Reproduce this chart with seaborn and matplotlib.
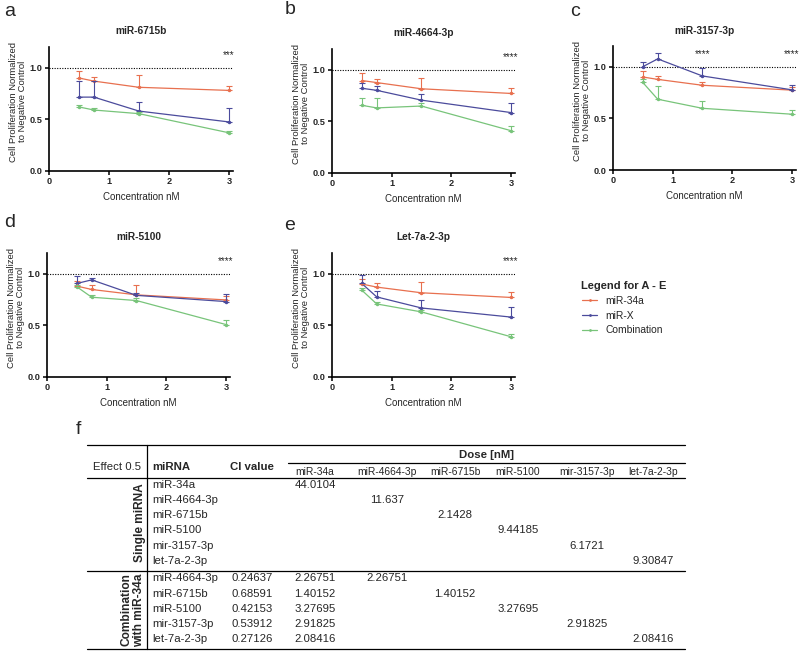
import numpy as np
import pandas as pd
import matplotlib
matplotlib.use("Agg")
import matplotlib.pyplot as plt
from matplotlib.lines import Line2D
import seaborn as sns

sns.set_style("ticks")
plt.rcParams['font.family'] = ['Liberation Sans', 'DejaVu Sans']

# ---------------- data ----------------
conc = [0.5, 0.75, 1.5, 3.0]
series_names = ["miR-34a", "miR-X", "Combination"]
colors = {"miR-34a": "#E8704F", "miR-X": "#4B4B9C", "Combination": "#78C47A"}

panel_titles = ["miR-6715b", "miR-4664-3p", "miR-3157-3p", "miR-5100", "Let-7a-2-3p"]
panel_letters = ["a", "b", "c", "d", "e"]

# panel a: miR-6715b
a_mir34a = [0.90, 0.87, 0.81, 0.78]
a_mir34a_err = [0.07, 0.04, 0.12, 0.04]
a_mirx = [0.715, 0.715, 0.58, 0.475]
a_mirx_err = [0.155, 0.155, 0.09, 0.135]
a_combo = [0.62, 0.59, 0.555, 0.37]
a_combo_err = [0.02, 0.02, 0.02, 0.02]

# panel b: miR-4664-3p
b_mir34a = [0.895, 0.875, 0.815, 0.77]
b_mir34a_err = [0.075, 0.03, 0.105, 0.055]
b_mirx = [0.82, 0.80, 0.705, 0.585]
b_mirx_err = [0.05, 0.04, 0.055, 0.095]
b_combo = [0.655, 0.63, 0.648, 0.41]
b_combo_err = [0.075, 0.10, 0.03, 0.045]

# panel c: miR-3157-3p
c_mir34a = [0.90, 0.877, 0.82, 0.773]
c_mir34a_err = [0.06, 0.035, 0.03, 0.035]
c_mirx = [1.0, 1.075, 0.91, 0.776]
c_mirx_err = [0.05, 0.055, 0.075, 0.045]
c_combo = [0.847, 0.685, 0.597, 0.54]
c_combo_err = [0.035, 0.125, 0.07, 0.04]

# panel d: miR-5100
d_mir34a = [0.88, 0.847, 0.795, 0.746]
d_mir34a_err = [0.05, 0.04, 0.095, 0.035]
d_mirx = [0.905, 0.94, 0.79, 0.73]
d_mirx_err = [0.07, 0.02, 0.02, 0.07]
d_combo = [0.873, 0.772, 0.74, 0.508]
d_combo_err = [0.02, 0.02, 0.02, 0.04]

# panel e: Let-7a-2-3p
e_mir34a = [0.90, 0.87, 0.815, 0.77]
e_mir34a_err = [0.045, 0.035, 0.105, 0.055]
e_mirx = [0.905, 0.775, 0.668, 0.58]
e_mirx_err = [0.08, 0.055, 0.075, 0.095]
e_combo = [0.84, 0.707, 0.63, 0.39]
e_combo_err = [0.02, 0.02, 0.02, 0.03]

# significance marks: (x, y, text)
a_stars = [(3.0, 1.12, "***")]
b_stars = [(3.0, 1.12, "****")]
c_stars = [(1.5, 1.12, "****"), (3.0, 1.12, "****")]
d_stars = [(3.0, 1.12, "****")]
e_stars = [(3.0, 1.12, "****")]

# table
table_effect = "Effect 0.5"
dose_cols = ["miR-34a", "miR-4664-3p", "miR-6715b", "miR-5100", "mir-3157-3p", "let-7a-2-3p"]
single_rows = ["miR-34a", "miR-4664-3p", "miR-6715b", "miR-5100", "mir-3157-3p", "let-7a-2-3p"]
single_doses = ["44.0104", "11.637", "2.1428", "9.44185", "6.1721", "9.30847"]
combo_rows = ["miR-4664-3p", "miR-6715b", "miR-5100", "mir-3157-3p", "let-7a-2-3p"]
combo_ci = ["0.24637", "0.68591", "0.42153", "0.53912", "0.27126"]
combo_mir34a_dose = ["2.26751", "1.40152", "3.27695", "2.91825", "2.08416"]
combo_partner_dose = ["2.26751", "1.40152", "3.27695", "2.91825", "2.08416"]

panels = [
    (a_mir34a, a_mir34a_err, a_mirx, a_mirx_err, a_combo, a_combo_err, a_stars),
    (b_mir34a, b_mir34a_err, b_mirx, b_mirx_err, b_combo, b_combo_err, b_stars),
    (c_mir34a, c_mir34a_err, c_mirx, c_mirx_err, c_combo, c_combo_err, c_stars),
    (d_mir34a, d_mir34a_err, d_mirx, d_mirx_err, d_combo, d_combo_err, d_stars),
    (e_mir34a, e_mir34a_err, e_mirx, e_mirx_err, e_combo, e_combo_err, e_stars),
]

# ---------------- layout ----------------
W, H = 800, 651
fig = plt.figure(figsize=(W / 100, H / 100), dpi=100)

def rect(x0, x1, ytop, ybot):
    return [x0 / W, 1 - ybot / H, (x1 - x0) / W, (ybot - ytop) / H]

axes_px = [
    (49, 233, 47, 171),
    (332, 515, 49, 173),
    (613, 796, 46, 170),
    (47, 230, 253, 377),
    (332, 515, 253, 377),
]
letter_px = [(10, 12), (290, 9), (575, 11), (10, 222), (290, 226)]

for i, (px, data) in enumerate(zip(axes_px, panels)):
    m34, m34e, mx, mxe, cb, cbe, stars = data
    ax = fig.add_axes(rect(*px))
    df = pd.DataFrame({
        "conc": conc * 3,
        "value": m34 + mx + cb,
        "series": [s for s in series_names for _ in conc],
    })
    sns.lineplot(data=df, x="conc", y="value", hue="series", palette=colors,
                 hue_order=series_names, marker="o", markersize=2.5,
                 markeredgewidth=0, linewidth=0.9, legend=False, ax=ax, zorder=3)
    for name, vals, errs in [("miR-34a", m34, m34e), ("miR-X", mx, mxe), ("Combination", cb, cbe)]:
        ax.errorbar(conc, vals, yerr=[np.zeros(len(errs)), errs], fmt="none",
                    ecolor=colors[name], elinewidth=0.8, capsize=2, capthick=0.8, zorder=3)
    ax.axhline(1.0, color="black", linestyle=(0, (1, 1.3)), linewidth=0.8, zorder=1)
    for (sx, sy, st) in stars:
        ax.text(sx, sy, st, ha="center", va="center", fontsize=7, clip_on=False)
    ax.set_xlim(0, 3.07)
    ax.set_ylim(0, 1.2)
    ax.set_xticks([0, 1, 2, 3])
    ax.set_yticks([0.0, 0.5, 1.0])
    ax.set_xticklabels(["0", "1", "2", "3"], fontweight="bold")
    ax.set_yticklabels(["0.0", "0.5", "1.0"], fontweight="bold")
    ax.tick_params(axis="both", labelsize=6.6, length=3, width=1.1, pad=1.5, color="black")
    for sp in ["left", "bottom"]:
        ax.spines[sp].set_linewidth(1.2)
        ax.spines[sp].set_color("black")
    sns.despine(ax=ax)
    ax.set_xlabel("Concentration nM", fontsize=7, labelpad=4)
    ax.set_ylabel("Cell Proliferation Normalized\nto Negative Control", fontsize=6.8,
                  linespacing=1.05)
    ax.yaxis.set_label_coords(-0.12, 0.56)
    ax.set_title(panel_titles[i], fontsize=7.3, fontweight="bold", pad=9)
    lx, ly = letter_px[i]
    fig.text(lx / W, 1 - ly / H, panel_letters[i], fontsize=14, ha="center", va="center")

# legend
fig.text(581 / W, 1 - 286 / H, "Legend for A - E", fontsize=8, fontweight="bold",
         ha="left", va="center")
handles = [Line2D([0], [0], color=colors[n], lw=0.9, marker="o", markersize=2,
                  markeredgewidth=0) for n in series_names]
leg = fig.legend(handles, series_names, loc="upper left",
                 bbox_to_anchor=(582 / W, 1 - 296 / H), frameon=False,
                 fontsize=7.4, handlelength=1.5, handletextpad=0.8, labelspacing=0.45,
                 borderaxespad=0, borderpad=0)

# ---------------- table (panel f) ----------------
BODY = 8.2

def T(x, y, s, **kw):
    kw.setdefault("va", "center")
    kw.setdefault("fontsize", BODY)
    fig.text(x / W, 1 - y / H, s, **kw)

def HL(y, x0, x1, lw=0.9):
    fig.add_artist(Line2D([x0 / W, x1 / W], [1 - y / H, 1 - y / H],
                          transform=fig.transFigure, color="black", lw=lw))

def VL(x, y0, y1, lw=0.9):
    fig.add_artist(Line2D([x / W, x / W], [1 - y0 / H, 1 - y1 / H],
                          transform=fig.transFigure, color="black", lw=lw))

T(78, 430, "f", fontsize=14, ha="center")
tx0, tx1 = 87, 685
HL(445, tx0, tx1)
HL(463, 288, tx1)
HL(478, tx0, tx1)
HL(571, tx0, tx1)
HL(649, tx0, tx1)
VL(147, 445, 649)

col_x = [315, 387, 455, 518, 587, 653]
T(117, 467, table_effect, ha="center")
T(152, 467, "miRNA", ha="left", fontweight="bold")
T(252, 467, "CI value", ha="center", fontweight="bold")
T(486, 455, "Dose [nM]", ha="center", fontweight="bold")
for cx, name in zip(col_x, dose_cols):
    T(cx, 472, name, ha="center", fontsize=7.4)

single_y = [485, 500, 515, 530, 546, 561]
for j, (yy, name, val) in enumerate(zip(single_y, single_rows, single_doses)):
    T(152, yy, name, ha="left")
    T(col_x[j], yy, val, ha="center")
T(140, 523, "Single miRNA", ha="center", rotation=90, fontweight="bold", fontsize=8.6)

combo_y = [578, 594, 609, 624, 639]
for j, (yy, name, ci, d34, dp) in enumerate(zip(combo_y, combo_rows, combo_ci,
                                                 combo_mir34a_dose, combo_partner_dose)):
    T(152, yy, name, ha="left")
    T(252, yy, ci, ha="center")
    T(col_x[0], yy, d34, ha="center")
    T(col_x[j + 1], yy, dp, ha="center")
T(133, 610, "Combination\nwith miR-34a", ha="center", rotation=90, fontweight="bold",
  fontsize=8.6, linespacing=1.0)

fig.savefig("out.png", dpi=100)
